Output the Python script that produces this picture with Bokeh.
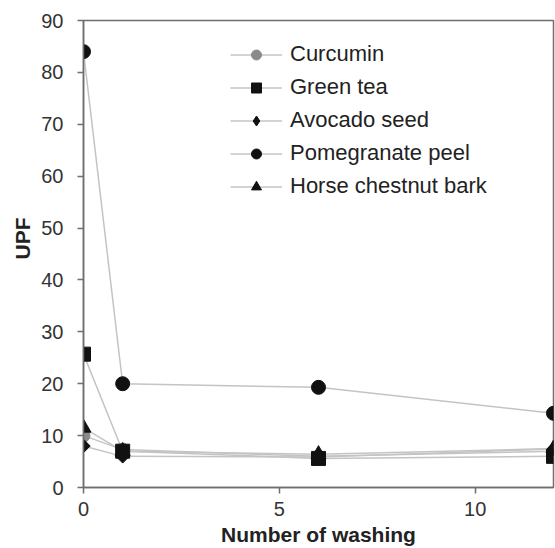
import math
from bokeh.plotting import figure
from bokeh.models import Range1d, FixedTicker, Title, LegendItem, Legend
from bokeh.embed import file_html
from bokeh.resources import INLINE

washes = [0, 1, 6, 12]
curcumin = [10.0, 7.3, 6.0, 7.0]
green_tea = [25.7, 7.0, 5.6, 6.0]
avocado_seed = [8.0, 6.0, 5.9, 7.4]
pomegranate_peel = [84.0, 20.0, 19.3, 14.3]
horse_chestnut = [11.5, 7.0, 6.4, 7.5]

x_ticks = [0, 5, 10]
y_ticks = [0, 10, 20, 30, 40, 50, 60, 70, 80, 90]

FONT = "Liberation Sans"
LINE = "#c4c4c4"
AX = "#6e6e6e"

p = figure(width=555, height=548, output_backend="svg", toolbar_location=None,
           x_range=Range1d(0, 12), y_range=Range1d(0, 90),
           min_border_left=83, min_border_right=2, min_border_top=20, min_border_bottom=61)

p.xgrid.visible = False
p.ygrid.visible = False
p.outline_line_color = AX
p.outline_line_width = 1.5
p.background_fill_color = "white"
p.border_fill_color = "white"

series = [
    ("Curcumin", curcumin, "circle", "#8a8a8a", 13, 0, "circle", 13),
    ("Green tea", green_tea, "square", "#111111", 14, 0, "square", 14),
    ("Avocado seed", avocado_seed, "square", "#111111", 9.5, math.pi / 4, "diamond", 13),
    ("Pomegranate peel", pomegranate_peel, "circle", "#111111", 14, 0, "circle", 14),
    ("Horse chestnut bark", horse_chestnut, "triangle", "#111111", 15, 0, "triangle", 15),
]

lines = {}
for name, ys, marker, color, size, ang, lmarker, lsize in series:
    lines[name] = p.line(washes, ys, line_color=LINE, line_width=1.5)

items = []
for name, ys, marker, color, size, ang, lmarker, lsize in series:
    p.scatter(washes, ys, marker=marker, size=size, angle=ang, fill_color=color,
              line_color=color)
    # legend-only proxy placed outside the visible ranges
    proxy = p.scatter([-50], [-50], marker=lmarker, size=lsize, fill_color=color, line_color=color)
    items.append(LegendItem(label=name, renderers=[lines[name], proxy]))

for ax in (p.xaxis[0], p.yaxis[0]):
    ax.axis_line_color = AX
    ax.axis_line_width = 1.5
    ax.major_tick_line_color = AX
    ax.major_tick_line_width = 1.5
    ax.major_tick_out = 6
    ax.major_tick_in = 0
    ax.minor_tick_line_color = None
    ax.major_label_text_font = FONT
    ax.major_label_text_font_size = "20px"
    ax.major_label_text_color = "#333333"
    ax.axis_label_text_font = FONT
    ax.axis_label_text_font_size = "21px"
    ax.axis_label_text_font_style = "bold"
    ax.axis_label_text_color = "#222222"

p.xaxis.ticker = FixedTicker(ticks=x_ticks)
p.yaxis.ticker = FixedTicker(ticks=y_ticks)
p.xaxis.axis_label = "Number of washing"
p.xaxis.major_label_standoff = 8
p.xaxis.axis_label_standoff = 4
p.yaxis.major_label_standoff = 14

ytitle = Title(text="UPF", align="right", offset=197, text_font=FONT,
               text_font_size="21px", text_font_style="bold", text_color="#222222",
               standoff=10)
p.add_layout(ytitle, "left")

leg = Legend(items=items, location=(147, 288))
leg.border_line_color = None
leg.background_fill_alpha = 0
leg.padding = 0
leg.margin = 0
leg.spacing = 7
leg.glyph_width = 52
leg.glyph_height = 25
leg.label_height = 25
leg.label_standoff = 8
leg.label_text_font = FONT
leg.label_text_font_size = "22px"
leg.label_text_color = "#222222"
p.add_layout(leg, "center")

open("out.html", "w").write(file_html(p, INLINE))
